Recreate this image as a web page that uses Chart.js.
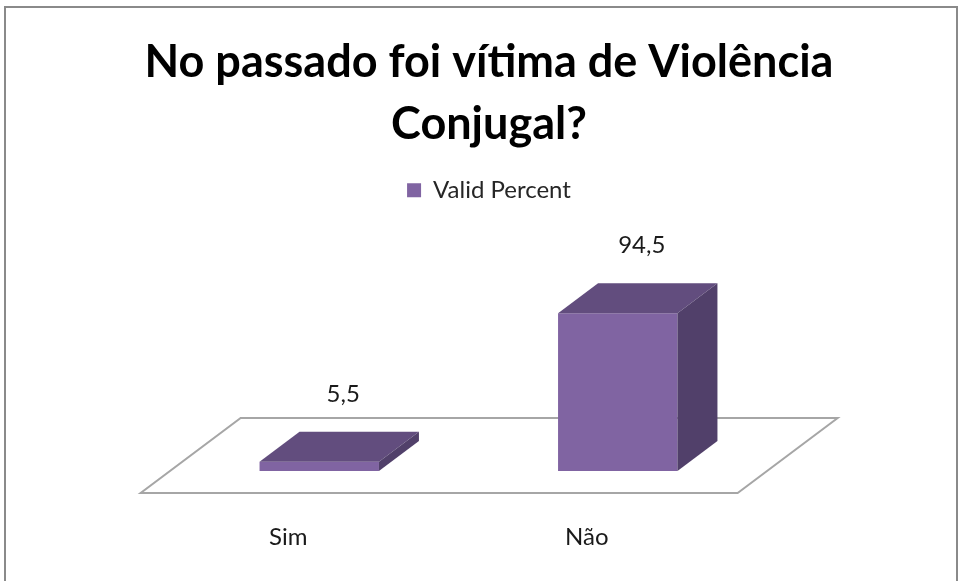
<!DOCTYPE html>
<html>
<head>
<meta charset="utf-8">
<script src="https://cdn.jsdelivr.net/npm/chart.js@4.4.0/dist/chart.umd.min.js"></script>
<style>
  html, body { margin: 0; padding: 0; background: #ffffff; }
  #wrap { width: 960px; height: 581px; position: relative; }
</style>
</head>
<body>
<div id="wrap"><canvas id="c" width="960" height="581"></canvas></div>
<script>
// ---- data ----
const categories = ['Sim', 'Não'];
const validPercent = [5.5, 94.5];
const seriesName = 'Valid Percent';
const titleLines = ['No passado foi vítima de Violência', 'Conjugal?'];

// ---- style constants ----
const FRONT = '#8064A2', TOPC = '#624D7E', SIDE = '#51406A';
const FONT = 'Lato, "Open Sans", sans-serif';
const BAR_DX = 40, BAR_DY = 30;           // 3-D depth of the bars
const FLOOR_FRONT = 22, FLOOR_BACK = 53;  // floor extent in front of / behind the bars
const SLOPE = BAR_DX / BAR_DY;
const CHART_TOP = 304;

const fmt = v => String(v).replace('.', ',');

const threeD = {
  id: 'threeD',
  beforeDraw(chart) {
    const ctx = chart.ctx;
    ctx.save();
    ctx.strokeStyle = '#8a8a8a';
    ctx.lineWidth = 2;
    ctx.strokeRect(5, 7, 952, 620);
    ctx.restore();
  },
  beforeDatasetsDraw(chart) {
    const ctx = chart.ctx, a = chart.chartArea;
    const y0 = chart.scales.y.getPixelForValue(0);
    const fy = y0 + FLOOR_FRONT, by = y0 - FLOOR_BACK;
    const fx = -FLOOR_FRONT * SLOPE, bx = FLOOR_BACK * SLOPE;
    ctx.save();
    ctx.beginPath();
    ctx.moveTo(a.left + fx, fy);
    ctx.lineTo(a.right + fx, fy);
    ctx.lineTo(a.right + bx, by);
    ctx.lineTo(a.left + bx, by);
    ctx.closePath();
    ctx.fillStyle = '#ffffff';
    ctx.fill();
    ctx.strokeStyle = '#a6a6a6';
    ctx.lineWidth = 2;
    ctx.stroke();
    ctx.restore();
  },
  afterDatasetsDraw(chart) {
    const ctx = chart.ctx;
    const meta = chart.getDatasetMeta(0);
    const data = chart.data.datasets[0].data;
    ctx.save();
    meta.data.forEach((bar, i) => {
      const p = bar.getProps(['x', 'y', 'base', 'width'], true);
      const l = p.x - p.width / 2, r = p.x + p.width / 2;
      // top face
      ctx.beginPath();
      ctx.moveTo(l, p.y); ctx.lineTo(r, p.y);
      ctx.lineTo(r + BAR_DX, p.y - BAR_DY); ctx.lineTo(l + BAR_DX, p.y - BAR_DY);
      ctx.closePath();
      ctx.fillStyle = TOPC; ctx.fill();
      // side face
      ctx.beginPath();
      ctx.moveTo(r, p.y); ctx.lineTo(r + BAR_DX, p.y - BAR_DY);
      ctx.lineTo(r + BAR_DX, p.base - BAR_DY); ctx.lineTo(r, p.base);
      ctx.closePath();
      ctx.fillStyle = SIDE; ctx.fill();
      // value label
      ctx.fillStyle = '#1a1a1a';
      ctx.font = '24px ' + FONT;
      ctx.textAlign = 'center';
      ctx.textBaseline = 'middle';
      ctx.fillText(fmt(data[i]), p.x + BAR_DX / 2 + 4, p.y - BAR_DY - 38);
    });
    ctx.restore();
  }
};

new Chart(document.getElementById('c'), {
  type: 'bar',
  data: {
    labels: categories,
    datasets: [{
      label: seriesName,
      data: validPercent,
      backgroundColor: FRONT,
      borderWidth: 0,
      categoryPercentage: 1,
      barPercentage: 0.4
    }]
  },
  options: {
    responsive: false,
    animation: false,
    layout: { padding: { left: 18, right: 0, top: 0, bottom: 0 } },
    plugins: {
      title: {
        display: true,
        text: titleLines,
        color: '#000000',
        font: { family: FONT, size: 45, weight: 'bold', lineHeight: 1.38 },
        padding: { top: 31, bottom: 13 }
      },
      legend: {
        display: true,
        labels: {
          color: '#262626',
          font: { family: FONT, size: 24 },
          boxWidth: 14, boxHeight: 14
        }
      },
      tooltip: { enabled: false }
    },
    scales: {
      x: {
        grid: { display: false },
        border: { display: false },
        ticks: { color: '#1a1a1a', font: { family: FONT, size: 24 }, padding: 44, labelOffset: -31 },
        afterFit(s) { s.height = 110; }
      },
      xTop: {
        type: 'category',
        position: 'top',
        labels: categories,
        grid: { display: false },
        border: { display: false },
        ticks: { display: false },
        afterFit(s) {
          const c = s.chart;
          const th = c.titleBlock ? c.titleBlock.height : 0;
          const lh = c.legend ? c.legend.height : 0;
          s.height = Math.max(0, CHART_TOP - th - lh);
        }
      },
      y: {
        min: 0, max: 100,
        grid: { display: false },
        border: { display: false },
        ticks: { display: false },
        afterFit(s) { s.width = 152; }
      },
      yR: {
        type: 'linear',
        position: 'right',
        min: 0, max: 100,
        grid: { display: false },
        border: { display: false },
        ticks: { display: false },
        afterFit(s) { s.width = 193; }
      }
    }
  },
  plugins: [threeD]
});
</script>
</body>
</html>
